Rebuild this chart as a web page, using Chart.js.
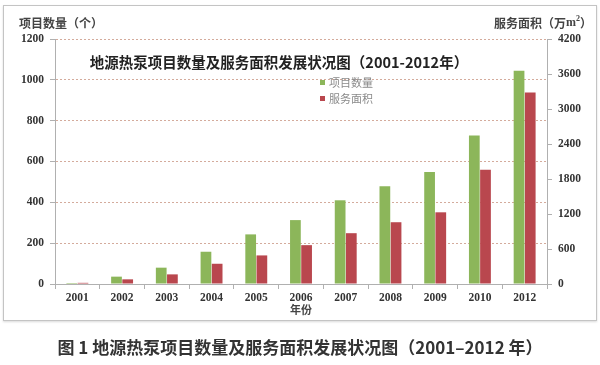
<!DOCTYPE html>
<html lang="zh">
<head>
    <meta charset="UTF-8">
    <title>地源热泵项目数量及服务面积发展状况图</title>
    <script src="https://cdn.jsdelivr.net/npm/chart.js@4.4.1/dist/chart.umd.min.js"></script>
    <style>
        body {
            margin: 0;
            padding: 0;
            background-color: #ffffff;
            width: 600px;
            height: 365px;
            overflow: hidden;
            position: relative;
        }

        .frame {
            position: absolute;
            left: 3px;
            top: 5px;
            width: 592px;
            height: 314px;
            border: 1px solid #c4c4c4;
            box-shadow: 0 1px 2px rgba(0, 0, 0, 0.15);
        }

        .chart-container {
            position: absolute;
            left: 0;
            top: 0;
            width: 600px;
            height: 365px;
        }

        .caption {
            position: absolute;
            left: 0;
            width: 600px;
            top: 334px;
            text-align: center;
            font-family: "Noto Sans CJK SC", "Noto Sans", sans-serif;
            font-weight: bold;
            font-size: 17px;
            color: #333333;
        }
    </style>
</head>
<body>
    <div class="frame"></div>
    <div class="chart-container">
        <canvas id="heat-pump-chart"></canvas>
    </div>
    <div class="caption">图 1 地源热泵项目数量及服务面积发展状况图（2001–2012 年）</div>

    <script>
        // Data
        const years = ['2001', '2002', '2003', '2004', '2005', '2006', '2007', '2008', '2009', '2010', '2012'];
        const projectCounts = [5, 36, 80, 158, 243, 313, 410, 479, 549, 727, 1045];
        const serviceArea = [20, 80, 165, 347, 490, 666, 871, 1059, 1229, 1958, 3283];

        const leftTicks = { min: 0, max: 1200, step: 200 };
        const rightTicks = { min: 0, max: 4200, step: 600 };

        const serifFont = '"Liberation Serif", "DejaVu Serif", serif';
        const cjkFont = '"Noto Sans CJK SC", sans-serif';

        // Draws the titles, the legend and the axis captions
        const textPlugin = {
            id: 'textPlugin',
            afterDraw(chart) {
                const ctx = chart.ctx;
                const area = chart.chartArea;
                ctx.save();

                // left axis caption
                ctx.fillStyle = '#444';
                ctx.font = 'bold 12px ' + cjkFont;
                ctx.textBaseline = 'middle';
                ctx.textAlign = 'left';
                ctx.fillText('项目数量（个）', 19, 23);

                // right axis caption, with a raised 2
                let x = 494;
                const parts = [['服务面积（万', 'bold 12px ' + cjkFont, 0],
                               ['m', 'bold 12px ' + serifFont, 0],
                               ['2', 'bold 8px ' + serifFont, -4],
                               ['）', 'bold 12px ' + cjkFont, 0]];
                parts.forEach(p => {
                    ctx.font = p[1];
                    ctx.fillText(p[0], x, 23 + p[2]);
                    x += ctx.measureText(p[0]).width;
                });

                // chart title
                ctx.fillStyle = '#222';
                ctx.textAlign = 'center';
                ctx.font = 'bold 14.5px ' + cjkFont;
                ctx.fillText('地源热泵项目数量及服务面积发展状况图（2001-2012年）', 279, 62);

                // legend
                const items = chart.data.datasets;
                ctx.textAlign = 'left';
                ctx.font = '11px ' + cjkFont;
                items.forEach((ds, i) => {
                    const y = 83 + i * 16;
                    ctx.fillStyle = ds.backgroundColor;
                    ctx.fillRect(320, y - 3, 5, 5);
                    ctx.fillStyle = '#8a8a8a';
                    ctx.fillText(ds.label, 329, y);
                });

                // x axis title
                ctx.fillStyle = '#444';
                ctx.textAlign = 'center';
                ctx.font = 'bold 11px ' + cjkFont;
                ctx.fillText('年份', (area.left + area.right) / 2, 310);

                ctx.restore();
            }
        };

        const tickFont = { family: serifFont, size: 11.5, weight: 'bold' };

        new Chart(document.getElementById('heat-pump-chart'), {
            type: 'bar',
            data: {
                labels: years,
                datasets: [{
                    label: '项目数量',
                    data: projectCounts,
                    backgroundColor: '#8cb65a',
                    yAxisID: 'y'
                }, {
                    label: '服务面积',
                    data: serviceArea,
                    backgroundColor: '#b9474e',
                    yAxisID: 'y1'
                }]
            },
            options: {
                responsive: true,
                maintainAspectRatio: false,
                animation: false,
                layout: {
                    padding: { top: 39, bottom: 45, left: 0, right: 0 }
                },
                plugins: {
                    legend: { display: false },
                    title: { display: false },
                    tooltip: { enabled: false }
                },
                datasets: {
                    bar: {
                        categoryPercentage: 0.5,
                        barPercentage: 0.96
                    }
                },
                scales: {
                    x: {
                        afterFit(scale) { scale.height = 36; },
                        grid: {
                            offset: true,
                            drawOnChartArea: false,
                            tickLength: 5,
                            tickColor: '#b0b0b0'
                        },
                        border: { color: '#b0b0b0' },
                        ticks: {
                            color: '#333',
                            padding: 2,
                            font: tickFont
                        }
                    },
                    y: {
                        position: 'left',
                        min: leftTicks.min,
                        max: leftTicks.max,
                        afterFit(scale) { scale.width = 55; },
                        grid: {
                            color: (c) => c.tick && c.tick.value === 0 ? 'rgba(0,0,0,0)' : '#d4ab9c',
                            tickBorderDash: [],
                            tickColor: '#b0b0b0',
                            tickLength: 5,
                            lineWidth: 1
                        },
                        border: { color: '#b0b0b0', dash: [2, 2] },
                        ticks: {
                            stepSize: leftTicks.step,
                            color: '#333',
                            padding: 6,
                            font: tickFont,
                            callback: (v) => String(v)
                        }
                    },
                    y1: {
                        position: 'right',
                        min: rightTicks.min,
                        max: rightTicks.max,
                        afterFit(scale) { scale.width = 53; },
                        grid: {
                            drawOnChartArea: false,
                            tickColor: '#b0b0b0',
                            tickLength: 5
                        },
                        border: { color: '#b0b0b0' },
                        ticks: {
                            stepSize: rightTicks.step,
                            color: '#333',
                            padding: 6,
                            font: tickFont,
                            callback: (v) => String(v)
                        }
                    }
                }
            },
            plugins: [textPlugin]
        });
    </script>
</body>
</html>
